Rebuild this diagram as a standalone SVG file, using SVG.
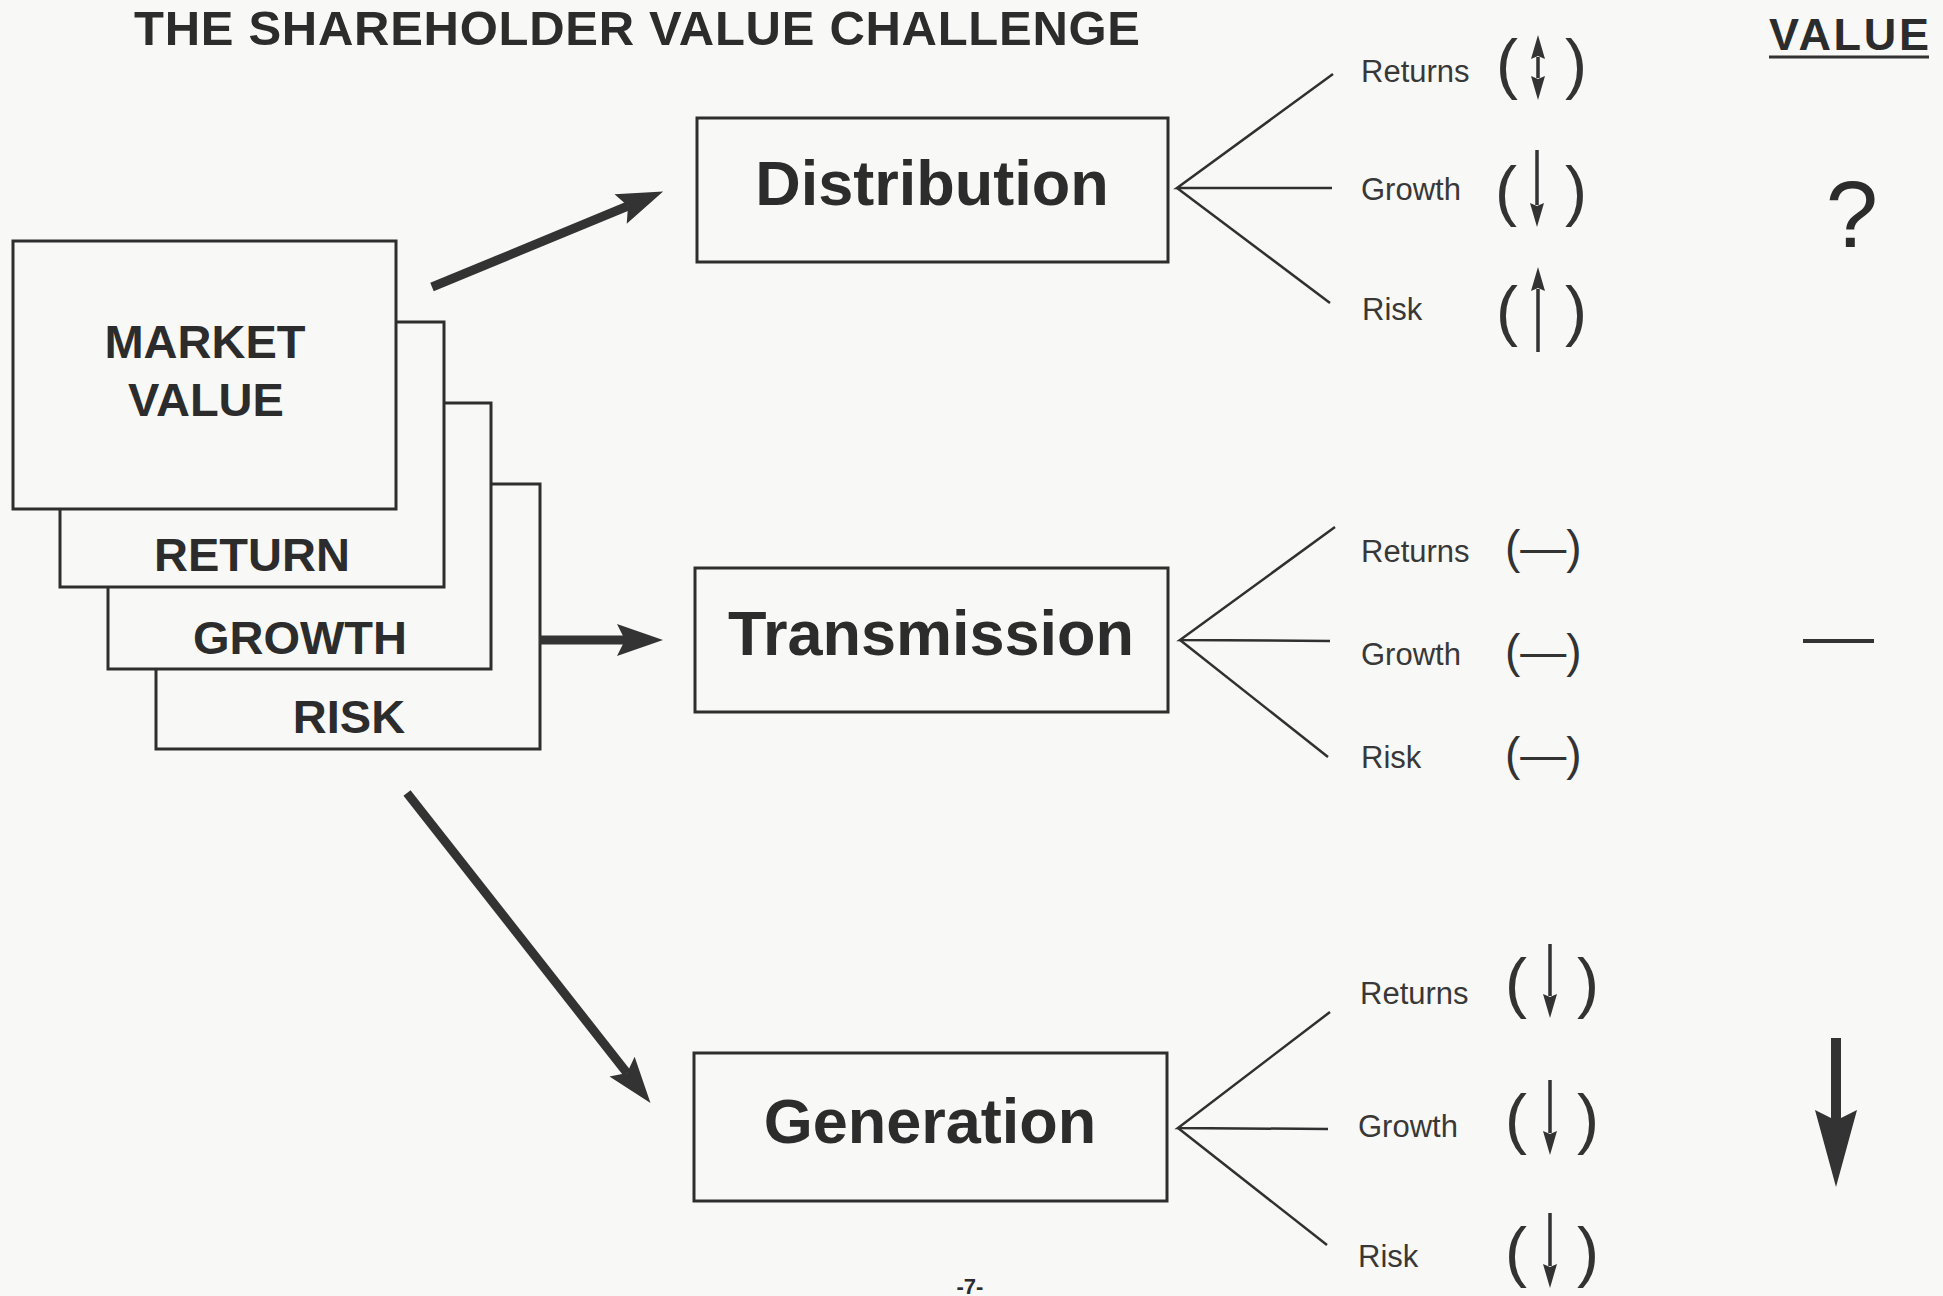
<svg xmlns="http://www.w3.org/2000/svg" width="1943" height="1296" viewBox="0 0 1943 1296">
  <style>
    text { font-family: "Liberation Sans", Arial, Helvetica, sans-serif; fill: #2c2c2c; }
    .box { fill: #f8f8f6; stroke: #2e2e2e; stroke-width: 3; }
    .card { font-size: 47px; font-weight: bold; text-anchor: middle; }
    .big { font-size: 63px; font-weight: bold; text-anchor: middle; }
    .lbl { font-size: 31px; fill: #383838; }
    .par { font-size: 66px; fill: #333; text-anchor: middle; }
    .flat { font-size: 46px; fill: #333; }
    .fan { stroke: #303030; stroke-width: 2.5; fill: none; }
    .thick { stroke: #333; stroke-width: 9; fill: none; marker-end: url(#head); }
    .small { stroke: #333; stroke-width: 3.5; fill: none; marker-end: url(#sm); }
  </style>
  <defs>
    <marker id="head" markerUnits="userSpaceOnUse" viewBox="0 0 60 40" markerWidth="60" markerHeight="40" refX="10" refY="20" orient="auto">
      <path d="M48,20 L2,4 L10,20 L2,36 Z" fill="#333"/>
    </marker>
    <marker id="sm" markerUnits="userSpaceOnUse" viewBox="0 0 24 14" markerWidth="24" markerHeight="14" refX="2" refY="7" orient="auto-start-reverse">
      <path d="M0,0 L24,7 L0,14 L3,7 Z" fill="#333"/>
    </marker>
  </defs>

  <rect width="1943" height="1296" fill="#f8f8f6"/>

  <!-- headings -->
  <text x="134" y="45" font-size="49" font-weight="bold" textLength="1006">THE SHAREHOLDER VALUE CHALLENGE</text>
  <text x="1769" y="50" font-size="45" font-weight="bold" textLength="160">VALUE</text>
  <line x1="1769" y1="57" x2="1929" y2="57" stroke="#333" stroke-width="3"/>

  <!-- stacked cards, back to front -->
  <g id="card-risk">
    <rect class="box" x="156" y="484" width="384" height="265"/>
    <text class="card" x="349" y="733">RISK</text>
  </g>
  <g id="card-growth">
    <rect class="box" x="108" y="403" width="383" height="266"/>
    <text class="card" x="300" y="654">GROWTH</text>
  </g>
  <g id="card-return">
    <rect class="box" x="60" y="322" width="384" height="265"/>
    <text class="card" x="252" y="571">RETURN</text>
  </g>
  <g id="card-market">
    <rect class="box" x="13" y="241" width="383" height="268"/>
    <text class="card" x="205" y="358">MARKET</text>
    <text class="card" x="206" y="416">VALUE</text>
  </g>

  <!-- strategy boxes -->
  <g id="node-distribution">
    <rect class="box" x="697" y="118" width="471" height="144"/>
    <text class="big" x="932" y="205">Distribution</text>
  </g>
  <g id="node-transmission">
    <rect class="box" x="695" y="568" width="473" height="144"/>
    <text class="big" x="931" y="655">Transmission</text>
  </g>
  <g id="node-generation">
    <rect class="box" x="694" y="1053" width="473" height="148"/>
    <text class="big" x="930" y="1143">Generation</text>
  </g>

  <!-- connectors -->
  <g id="connectors">
    <line class="thick" x1="432" y1="287" x2="628" y2="206"/>
    <line class="thick" x1="539" y1="640" x2="625" y2="640"/>
    <line class="thick" x1="407" y1="793" x2="627" y2="1073"/>

    <polyline class="fan" points="1333,74 1177,188 1332,188"/>
    <line class="fan" x1="1177" y1="188" x2="1330" y2="303"/>

    <polyline class="fan" points="1335,527 1180,640 1330,641"/>
    <line class="fan" x1="1180" y1="640" x2="1328" y2="757"/>

    <polyline class="fan" points="1330,1012 1178,1128 1328,1129"/>
    <line class="fan" x1="1178" y1="1128" x2="1327" y2="1245"/>
  </g>

  <!-- distribution outcomes -->
  <g id="out-distribution">
    <text class="lbl" x="1361" y="82">Returns</text>
    <text class="par" x="1507" y="86">(</text>
    <text class="par" x="1576" y="86">)</text>
    <line class="small" x1="1538" y1="57" x2="1538" y2="78" marker-start="url(#sm)"/>

    <text class="lbl" x="1361" y="200">Growth</text>
    <text class="par" x="1506" y="213">(</text>
    <text class="par" x="1576" y="213">)</text>
    <line class="small" x1="1537" y1="150" x2="1537" y2="205"/>

    <text class="lbl" x="1362" y="320">Risk</text>
    <text class="par" x="1507" y="333">(</text>
    <text class="par" x="1576" y="333">)</text>
    <line class="small" x1="1538" y1="352" x2="1538" y2="289"/>
  </g>

  <!-- transmission outcomes -->
  <g id="out-transmission">
    <text class="lbl" x="1361" y="562">Returns</text>
    <text class="flat" x="1505" y="563">(—)</text>
    <text class="lbl" x="1361" y="665">Growth</text>
    <text class="flat" x="1505" y="667">(—)</text>
    <text class="lbl" x="1361" y="768">Risk</text>
    <text class="flat" x="1505" y="770">(—)</text>
  </g>

  <!-- generation outcomes -->
  <g id="out-generation">
    <text class="lbl" x="1360" y="1004">Returns</text>
    <text class="par" x="1516" y="1005">(</text>
    <text class="par" x="1588" y="1005">)</text>
    <line class="small" x1="1550" y1="944" x2="1550" y2="996"/>

    <text class="lbl" x="1358" y="1137">Growth</text>
    <text class="par" x="1516" y="1141">(</text>
    <text class="par" x="1588" y="1141">)</text>
    <line class="small" x1="1550" y1="1080" x2="1550" y2="1133"/>

    <text class="lbl" x="1358" y="1267">Risk</text>
    <text class="par" x="1516" y="1274">(</text>
    <text class="par" x="1588" y="1274">)</text>
    <line class="small" x1="1550" y1="1213" x2="1550" y2="1266"/>
  </g>

  <!-- value column -->
  <g id="value-column">
    <text x="1852" y="247" font-size="94" text-anchor="middle" fill="#3a3a3a">?</text>
    <line x1="1803" y1="641" x2="1874" y2="641" stroke="#333" stroke-width="4"/>
    <path d="M1831,1038 H1841 V1118 L1857,1110 L1836,1187 L1815,1110 L1831,1118 Z" fill="#333"/>
  </g>

  <!-- page number -->
  <text x="970" y="1294" font-size="22" font-weight="bold" text-anchor="middle">-7-</text>
</svg>
